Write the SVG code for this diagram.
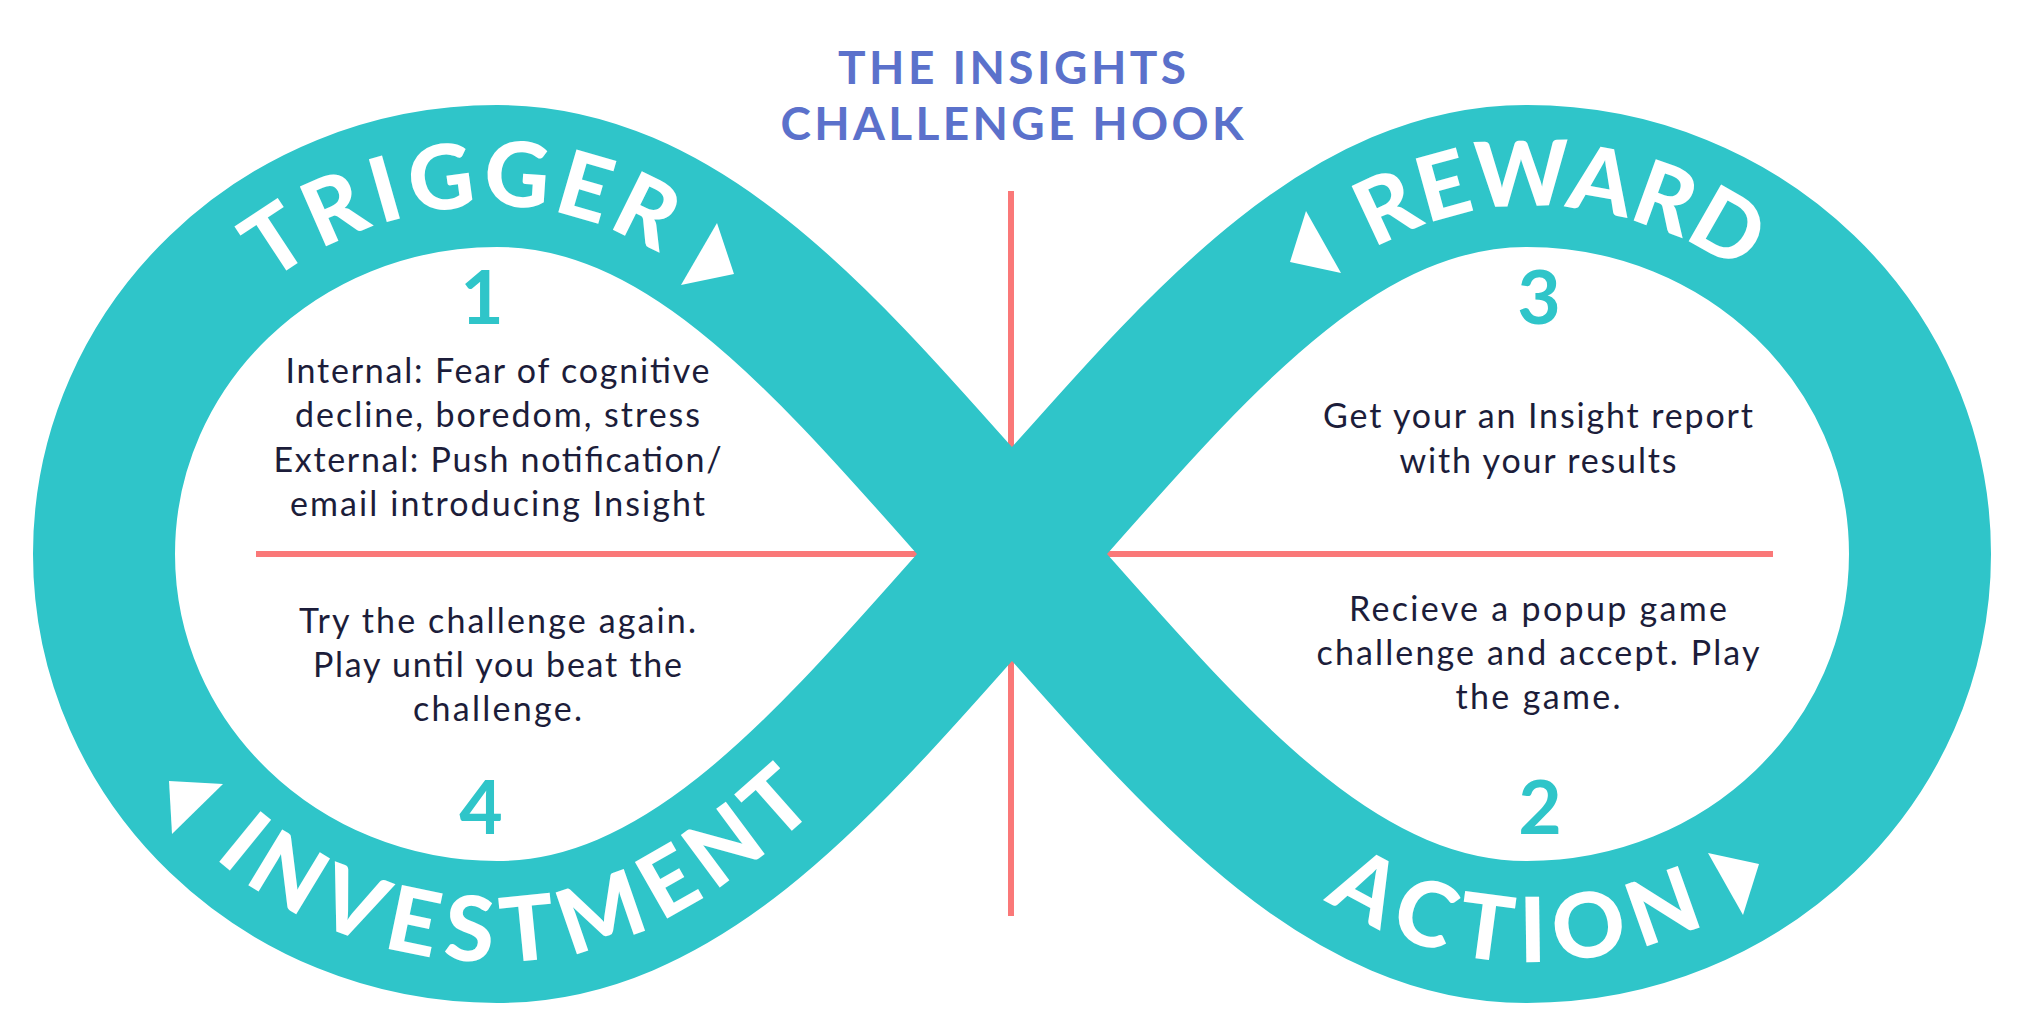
<svg xmlns="http://www.w3.org/2000/svg" xmlns:xlink="http://www.w3.org/1999/xlink" width="2024" height="1036" viewBox="0 0 2024 1036">
  <style>
    .title { font-family: Lato, "Liberation Sans", sans-serif; font-weight: 700; font-size: 46px; fill: #5b71cb; text-anchor: middle; }
    .body { font-family: Lato, "Liberation Sans", sans-serif; font-weight: 400; font-size: 34px; fill: #1c1d3a; text-anchor: middle; }
    .num { font-family: Lato, "Liberation Sans", sans-serif; font-weight: 700; font-size: 75px; fill: #2fc5c9; text-anchor: middle; }
    .lbl { font-family: Lato, "Liberation Sans", sans-serif; font-weight: 900; font-size: 90px; fill: #ffffff; }
    .band { fill: none; stroke: #2fc5c9; stroke-width: 142; stroke-linejoin: round; }
    .axis { stroke: #fa7878; stroke-width: 6; fill: none; }
    .arrow { fill: #ffffff; }
  </style>
  <defs>
    <path id="pTopL" d="M104,554 C104,345 280,176 497,176 C697,176 845,368 1012,554"/>
    <path id="pBotL" d="M104,554 C104,763 280,932 497,932 C697,932 845,740 1012,554"/>
    <path id="pTopR" d="M1012,554 C1179,368 1327,176 1527,176 C1744,176 1920,345 1920,554"/>
    <path id="pBotR" d="M1012,554 C1179,740 1327,932 1527,932 C1744,932 1920,763 1920,554"/>
  </defs>

  <rect width="2024" height="1036" fill="#ffffff"/>

  <g id="title">
    <text class="title" x="1012" y="84" textLength="348">THE INSIGHTS</text>
    <text class="title" x="1012" y="140" textLength="463">CHALLENGE HOOK</text>
  </g>

  <g id="axes">
    <line class="axis" x1="1011" y1="191" x2="1011" y2="916"/>
    <line class="axis" x1="256" y1="554" x2="1773" y2="554"/>
  </g>

  <g id="connectors">
    <path class="band" d="M1012,554 C845,368 697,176 497,176 C280,176 104,345 104,554 C104,763 280,932 497,932 C697,932 845,740 1012,554 C1179,368 1327,176 1527,176 C1744,176 1920,345 1920,554 C1920,763 1744,932 1527,932 C1327,932 1179,740 1012,554 Z"/>
    <polygon class="arrow" points="734,274 717,223 681,285"/>
    <polygon class="arrow" points="1290,262 1306,211 1341,273"/>
    <polygon class="arrow" points="1759,864 1708,853 1743,915"/>
    <polygon class="arrow" points="169,781 223,784 172,834"/>
  </g>

  <g id="node-trigger">
    <text class="lbl"><textPath xlink:href="#pTopL" href="#pTopL" startOffset="344" textLength="446"><tspan dy="30">TRIGGER</tspan></textPath></text>
    <text class="num" x="482" y="324">1</text>
    <text class="body" x="497.5" y="383" textLength="424">Internal: Fear of cognitive</text>
    <text class="body" x="497.5" y="427" textLength="405">decline, boredom, stress</text>
    <text class="body" x="497.5" y="472" textLength="448">External: Push notification/</text>
    <text class="body" x="497.5" y="516" textLength="415">email introducing Insight</text>
  </g>

  <g id="node-action">
    <text class="lbl"><textPath xlink:href="#pBotR" href="#pBotR" startOffset="458" textLength="374"><tspan dy="30">ACTION</tspan></textPath></text>
    <text class="num" x="1540" y="834">2</text>
    <text class="body" x="1538" y="621" textLength="378">Recieve a popup game</text>
    <text class="body" x="1538" y="665" textLength="443">challenge and accept. Play</text>
    <text class="body" x="1538" y="709" textLength="165">the game.</text>
  </g>

  <g id="node-reward">
    <text class="lbl"><textPath xlink:href="#pTopR" href="#pTopR" startOffset="484" textLength="418"><tspan dy="30">REWARD</tspan></textPath></text>
    <text class="num" x="1539" y="324">3</text>
    <text class="body" x="1538" y="428" textLength="430">Get your an Insight report</text>
    <text class="body" x="1538" y="473" textLength="277">with your results</text>
  </g>

  <g id="node-investment">
    <text class="lbl"><textPath xlink:href="#pBotL" href="#pBotL" startOffset="318" textLength="630"><tspan dy="30">INVESTMENT</tspan></textPath></text>
    <text class="num" x="481" y="834">4</text>
    <text class="body" x="497.5" y="633" textLength="397">Try the challenge again.</text>
    <text class="body" x="497.5" y="677" textLength="369">Play until you beat the</text>
    <text class="body" x="497.5" y="721" textLength="169">challenge.</text>
  </g>
</svg>
